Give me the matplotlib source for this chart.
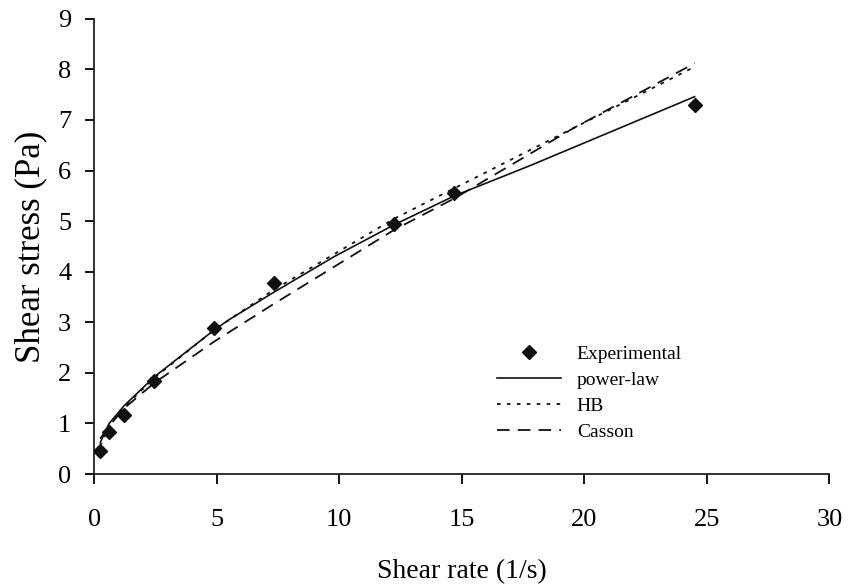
import matplotlib
matplotlib.use("Agg")
import matplotlib.pyplot as plt

# shear rate (1/s) and measured shear stress (Pa)
rate_exp = [0.245, 0.61, 1.22, 2.45, 4.9, 7.35, 12.25, 14.7, 24.5]
stress_exp = [0.46, 0.83, 1.17, 1.83, 2.88, 3.78, 4.95, 5.56, 7.29]

# model curves
rate_pl = [0.245, 0.61, 1.22, 2.45, 4.9, 5.5, 7.35, 9.8, 12.25, 14.7, 17.8, 24.5]
stress_pl = [0.62, 1.0, 1.35, 1.92, 2.85, 3.05, 3.6, 4.3, 4.93, 5.5, 6.1, 7.46]

rate_hb = [0.245, 0.61, 1.22, 2.45, 4.9, 7.35, 9.8, 12.25, 14.7, 19.6, 24.5]
stress_hb = [0.55, 0.95, 1.32, 1.9, 2.85, 3.65, 4.35, 5.05, 5.65, 6.85, 8.05]

rate_cas = [0.245, 0.61, 1.22, 2.45, 4.9, 7.35, 9.8, 12.25, 14.7, 19.6, 24.5]
stress_cas = [0.7, 0.95, 1.3, 1.8, 2.62, 3.37, 4.1, 4.83, 5.45, 6.85, 8.12]

plt.rcParams['font.family'] = ['Liberation Serif', 'DejaVu Serif']

fig = plt.figure(figsize=(8.56, 5.86), dpi=100)
ax = fig.add_axes([0.110, 0.191, 0.859, 0.777])

ax.plot(rate_exp, stress_exp, linestyle='none', marker='D', markersize=7.5,
        color='#111111', label='Experimental', zorder=5)
ax.plot(rate_pl, stress_pl, color='#111111', lw=1.2, label='power-law')
ax.plot(rate_hb, stress_hb, color='#111111', lw=1.3, linestyle=(0, (2, 3.5)), label='HB')
ax.plot(rate_cas, stress_cas, color='#111111', lw=1.3, linestyle=(0, (7, 4.5)), label='Casson')

ax.set_xlim(0, 30)
ax.set_ylim(0, 9)
ax.set_xticks([0, 5, 10, 15, 20, 25, 30])
ax.set_yticks(range(0, 10))

for s in ['top', 'right']:
    ax.spines[s].set_visible(False)
for s in ['left', 'bottom']:
    ax.spines[s].set_linewidth(1.3)
    ax.spines[s].set_color('#222222')

ax.tick_params(axis='x', direction='out', length=7, width=1.3, pad=18.5, labelsize=19)
ax.tick_params(axis='y', direction='out', length=6.5, width=1.3, pad=10, labelsize=19)

ax.set_xlabel('Shear rate (1/s)', fontsize=20, labelpad=20)
ax.set_ylabel('Shear stress (Pa)', fontsize=25, labelpad=8)

ax.legend(loc='upper left', bbox_to_anchor=(0.548, 0.282), frameon=False,
          fontsize=14, handlelength=3.3, handletextpad=0.8, labelspacing=0.42,
          borderpad=0, borderaxespad=0)

fig.savefig('out.png', dpi=100)
